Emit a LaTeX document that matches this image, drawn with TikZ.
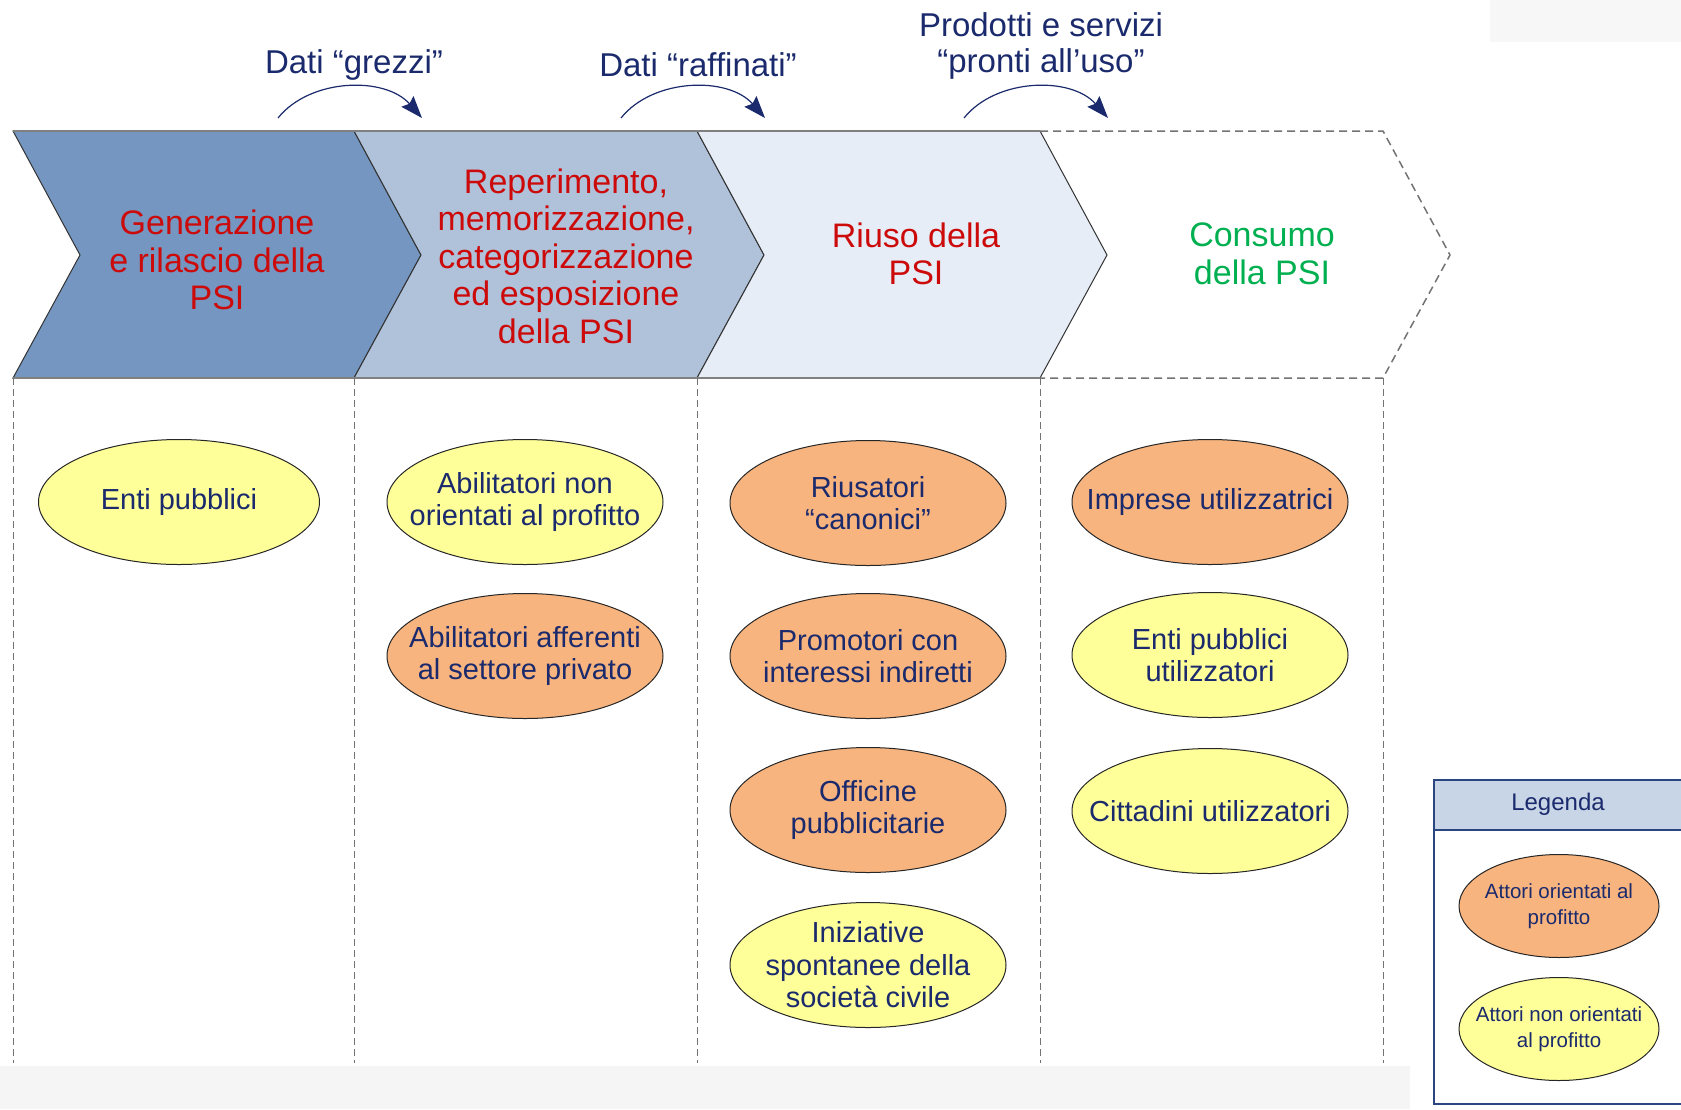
\documentclass[tikz,border=0pt]{standalone}
\usepackage{fontspec}
\setmainfont{Liberation Sans}
\usetikzlibrary{shapes.geometric,arrows.meta}
\definecolor{chevA}{HTML}{7496C0}
\definecolor{chevB}{HTML}{AFC2DA}
\definecolor{chevC}{HTML}{E6EDF7}
\definecolor{redtxt}{HTML}{CC0A0A}
\definecolor{greentxt}{HTML}{00B050}
\definecolor{navy}{HTML}{1A2A6C}
\definecolor{ellY}{HTML}{FFFF99}
\definecolor{ellO}{HTML}{F8B47E}
\definecolor{legHead}{HTML}{C8D5E7}
\definecolor{legBorder}{HTML}{2A4580}
\begin{document}
\begin{tikzpicture}[x=1pt,y=-1pt,
  chevfill/.style={draw=black!80, line width=1},
  edgeline/.style={draw=black!50, line width=2.5},
  chevtext/.style={align=center, font=\fontsize{34}{37.5}\selectfont, text=redtxt},
  toplabel/.style={align=center, font=\fontsize{33}{36.5}\selectfont, text=navy},
  flowarrow/.style={draw=navy, line width=1.2, -{Stealth[length=22,width=16,inset=3]}},
  divider/.style={draw=black!55, line width=1, dash pattern=on 7pt off 4pt},
  actor/.style={ellipse, draw=black!85, line width=1, minimum width=276, minimum height=125, inner xsep=-60pt, inner ysep=-40pt, align=center, font=\fontsize{29}{32.5}\selectfont, text=navy},
  legactor/.style={ellipse, draw=black!85, line width=1, minimum width=200, minimum height=103, inner xsep=-50pt, inner ysep=-30pt, align=center, font=\fontsize{20.5}{26}\selectfont, text=navy},
  profit/.style={actor, fill=ellO},
  nonprofit/.style={actor, fill=ellY}]
\useasboundingbox (0,0) rectangle (1681,1109);
% faint scan artefacts
\fill[black!4] (0,1066) rectangle (1410,1109);
\fill[black!3] (1490,0) rectangle (1681,42);

% chevrons
\path[chevfill, fill=chevA] (13,131) -- (354,131) -- (421,255) -- (354,378) -- (13,378) -- (80,255) -- cycle;
\path[chevfill, fill=chevB] (354,131) -- (697,131) -- (764,255) -- (697,378) -- (354,378) -- (421,255) -- cycle;
\path[chevfill, fill=chevC] (697,131) -- (1040,131) -- (1107,255) -- (1040,378) -- (697,378) -- (764,255) -- cycle;
\draw[edgeline] (13,131) -- (1040,131);
\draw[edgeline] (13,378) -- (1040,378);
\draw[draw=black!55, line width=1.5, dash pattern=on 8pt off 5pt] (1040,131) -- (1383,131) -- (1450,255) -- (1383,378) -- (1040,378);

% dividers
\foreach \xx/\nm in {13/a,354/b,697/c,1040/d,1383/e} {
  \coordinate (dt\nm) at (\xx,378);
  \coordinate (db\nm) at (\xx,1063);
  \draw[divider] (dt\nm) -- (db\nm);
}

% chevron texts
\node[chevtext] (c1) at (217,260) {Generazione\\e rilascio della\\PSI};
\node[chevtext] (c2) at (566,256) {Reperimento,\\memorizzazione,\\categorizzazione\\ed esposizione\\della PSI};
\node[chevtext] (c3) at (916,254) {Riuso della\\PSI};
\node[chevtext, text=greentxt] (c4) at (1262,254) {Consumo\\della PSI};

% top labels
\node[toplabel] (t1) at (354,65) {Dati “grezzi”};
\node[toplabel] (t2) at (698,65) {Dati “raffinati”};
\node[toplabel] (t3) at (1041,46) {Prodotti e servizi\\“pronti all’uso”};

% flow arrows
\coordinate (a1s) at (278,118); \coordinate (a1e) at (422,118);
\coordinate (a2s) at (621,118); \coordinate (a2e) at (765,118);
\coordinate (a3s) at (964,118); \coordinate (a3e) at (1108,118);
\draw[flowarrow] (a1s) .. controls (310,78) and (385,76) .. (a1e);
\draw[flowarrow] (a2s) .. controls (653,78) and (728,76) .. (a2e);
\draw[flowarrow] (a3s) .. controls (996,78) and (1071,76) .. (a3e);

% actors
\node[nonprofit, minimum width=281] (e1) at (179,502) {Enti pubblici};
\node[nonprofit] (e2) at (525,502) {Abilitatori non\\orientati al profitto};
\node[profit] (e3) at (525,656) {Abilitatori afferenti\\al settore privato};
\node[profit] (e4) at (868,503) {Riusatori\\“canonici”};
\node[profit] (e5) at (868,656) {Promotori con\\interessi indiretti};
\node[profit] (e6) at (868,810) {Officine\\pubblicitarie};
\node[nonprofit] (e7) at (868,965) {Iniziative\\spontanee della\\società civile};
\node[profit] (e8) at (1210,502) {Imprese utilizzatrici};
\node[nonprofit] (e9) at (1210,655) {Enti pubblici\\utilizzatori};
\node[nonprofit] (e10) at (1210,811) {Cittadini utilizzatori};

% legend
\fill[legHead] (1434,780) rectangle (1690,830);
\draw[legBorder, line width=1.2] (1690,780) -- (1434,780) -- (1434,1104) -- (1690,1104);
\draw[legBorder, line width=1.2] (1434,830) -- (1690,830);
\node[font=\fontsize{24}{28}\selectfont, text=navy] (legtitle) at (1558,804) {Legenda};
\node[legactor, fill=ellO] (lo) at (1559,906) {Attori orientati al\\profitto};
\node[legactor, fill=ellY] (ly) at (1559,1029) {Attori non orientati\\al profitto};
\end{tikzpicture}
\end{document}
